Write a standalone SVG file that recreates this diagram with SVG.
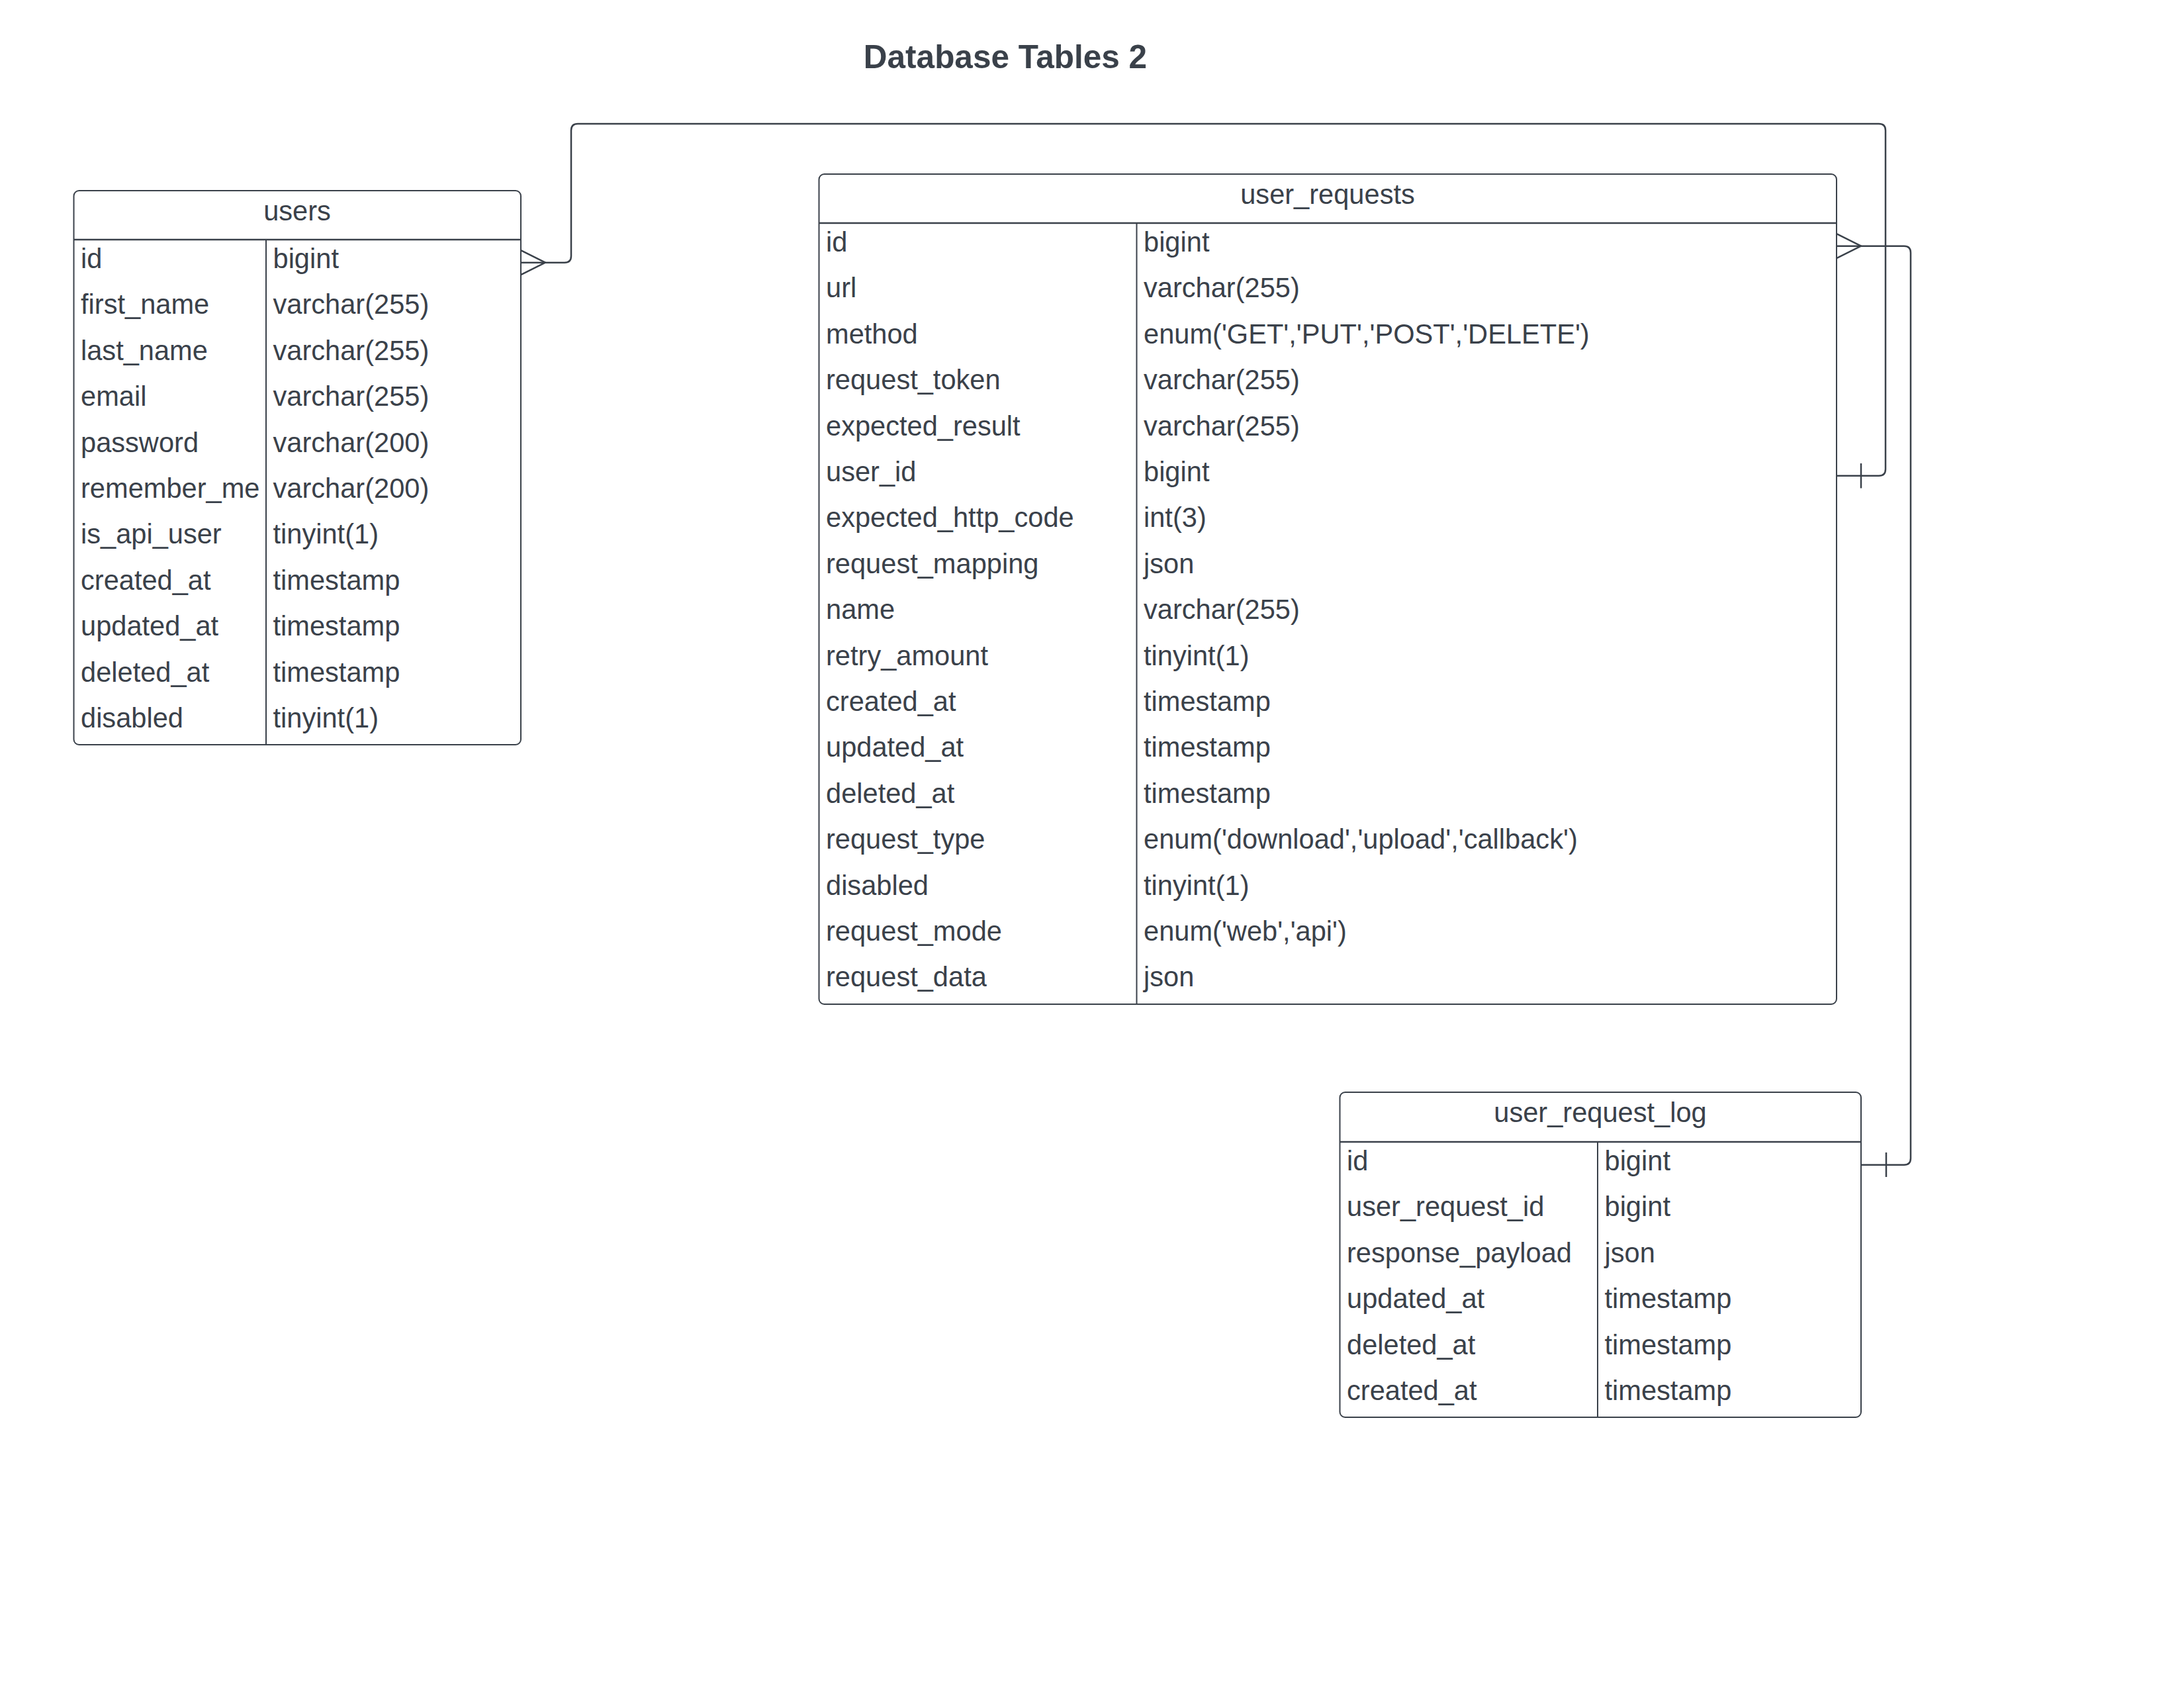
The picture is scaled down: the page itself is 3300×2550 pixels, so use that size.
<svg xmlns="http://www.w3.org/2000/svg" width="3300" height="2550" viewBox="0 0 3300 2550">
<style>
.bg{fill:#ffffff}
.tbl{fill:#ffffff;stroke:#3a414a;stroke-width:2}
.ln{stroke:#3a414a;stroke-width:2;fill:none}
.hl{stroke:#3a414a;stroke-width:2.5;fill:none}
.t{font-family:"Liberation Sans",Arial,sans-serif;font-size:41.6px;fill:#3a414a}
.h{font-family:"Liberation Sans",Arial,sans-serif;font-size:41.6px;fill:#3a414a;text-anchor:middle}
.title{font-family:"Liberation Sans",Arial,sans-serif;font-size:49.5px;font-weight:bold;fill:#3a414a;text-anchor:middle}
.conn{stroke:#3a414a;stroke-width:2.5;fill:none;stroke-linejoin:round}
</style>
<rect class="bg" x="0" y="0" width="3300" height="2550"/>
<text class="title" x="1519" y="103">Database Tables 2</text>

<g id="users">
<rect class="tbl" x="111.5" y="288" width="675.5" height="837" rx="8" ry="8"/>
<line class="hl" x1="111.5" y1="362" x2="787" y2="362"/>
<line class="ln" x1="402" y1="362" x2="402" y2="1125"/>
<text class="h" x="449" y="333">users</text>
<g class="t">
<text x="122" y="405">id</text><text x="412.5" y="405">bigint</text>
<text x="122" y="474.4">first_name</text><text x="412.5" y="474.4">varchar(255)</text>
<text x="122" y="543.8">last_name</text><text x="412.5" y="543.8">varchar(255)</text>
<text x="122" y="613.2">email</text><text x="412.5" y="613.2">varchar(255)</text>
<text x="122" y="682.6">password</text><text x="412.5" y="682.6">varchar(200)</text>
<text x="122" y="752">remember_me</text><text x="412.5" y="752">varchar(200)</text>
<text x="122" y="821.4">is_api_user</text><text x="412.5" y="821.4">tinyint(1)</text>
<text x="122" y="890.8">created_at</text><text x="412.5" y="890.8">timestamp</text>
<text x="122" y="960.2">updated_at</text><text x="412.5" y="960.2">timestamp</text>
<text x="122" y="1029.6">deleted_at</text><text x="412.5" y="1029.6">timestamp</text>
<text x="122" y="1099">disabled</text><text x="412.5" y="1099">tinyint(1)</text>
</g>
</g>

<g id="user_requests">
<rect class="tbl" x="1237.5" y="263" width="1537.5" height="1254" rx="8" ry="8"/>
<line class="hl" x1="1237.5" y1="337" x2="2775" y2="337"/>
<line class="ln" x1="1717.5" y1="337" x2="1717.5" y2="1517"/>
<text class="h" x="2006" y="308">user_requests</text>
<g class="t">
<text x="1248" y="380">id</text><text x="1728" y="380">bigint</text>
<text x="1248" y="449.4">url</text><text x="1728" y="449.4">varchar(255)</text>
<text x="1248" y="518.8">method</text><text x="1728" y="518.8">enum('GET','PUT','POST','DELETE')</text>
<text x="1248" y="588.2">request_token</text><text x="1728" y="588.2">varchar(255)</text>
<text x="1248" y="657.6">expected_result</text><text x="1728" y="657.6">varchar(255)</text>
<text x="1248" y="727">user_id</text><text x="1728" y="727">bigint</text>
<text x="1248" y="796.4">expected_http_code</text><text x="1728" y="796.4">int(3)</text>
<text x="1248" y="865.8">request_mapping</text><text x="1728" y="865.8">json</text>
<text x="1248" y="935.2">name</text><text x="1728" y="935.2">varchar(255)</text>
<text x="1248" y="1004.6">retry_amount</text><text x="1728" y="1004.6">tinyint(1)</text>
<text x="1248" y="1074">created_at</text><text x="1728" y="1074">timestamp</text>
<text x="1248" y="1143.4">updated_at</text><text x="1728" y="1143.4">timestamp</text>
<text x="1248" y="1212.8">deleted_at</text><text x="1728" y="1212.8">timestamp</text>
<text x="1248" y="1282.2">request_type</text><text x="1728" y="1282.2">enum('download','upload','callback')</text>
<text x="1248" y="1351.6">disabled</text><text x="1728" y="1351.6">tinyint(1)</text>
<text x="1248" y="1421">request_mode</text><text x="1728" y="1421">enum('web','api')</text>
<text x="1248" y="1490.4">request_data</text><text x="1728" y="1490.4">json</text>
</g>
</g>

<g id="user_request_log">
<rect class="tbl" x="2024.5" y="1650" width="787.5" height="491" rx="8" ry="8"/>
<line class="hl" x1="2024.5" y1="1725" x2="2812" y2="1725"/>
<line class="ln" x1="2414" y1="1725" x2="2414" y2="2141"/>
<text class="h" x="2418" y="1695">user_request_log</text>
<g class="t">
<text x="2035" y="1768">id</text><text x="2424.5" y="1768">bigint</text>
<text x="2035" y="1837.4">user_request_id</text><text x="2424.5" y="1837.4">bigint</text>
<text x="2035" y="1906.8">response_payload</text><text x="2424.5" y="1906.8">json</text>
<text x="2035" y="1976.2">updated_at</text><text x="2424.5" y="1976.2">timestamp</text>
<text x="2035" y="2045.6">deleted_at</text><text x="2424.5" y="2045.6">timestamp</text>
<text x="2035" y="2115">created_at</text><text x="2424.5" y="2115">timestamp</text>
</g>
</g>

<g id="connectors">
<!-- users.id (many) to user_requests.user_id (one) -->
<path class="conn" d="M787 396.7 H853 Q863 396.7 863 386.7 V197 Q863 187 873 187 H2839 Q2849 187 2849 197 V708.7 Q2849 718.7 2839 718.7 H2775"/>
<path class="conn" d="M787 378.2 L824 396.7 L787 415.2"/>
<line class="conn" x1="2812" y1="700" x2="2812" y2="737.5"/>
<!-- user_requests.id (many) to user_request_log.id (one) -->
<path class="conn" d="M2775 371.7 H2877 Q2887 371.7 2887 381.7 V1749.7 Q2887 1759.7 2877 1759.7 H2812"/>
<path class="conn" d="M2775 353.2 L2812 371.7 L2775 390.2"/>
<line class="conn" x1="2850" y1="1741" x2="2850" y2="1778"/>
</g>
</svg>
